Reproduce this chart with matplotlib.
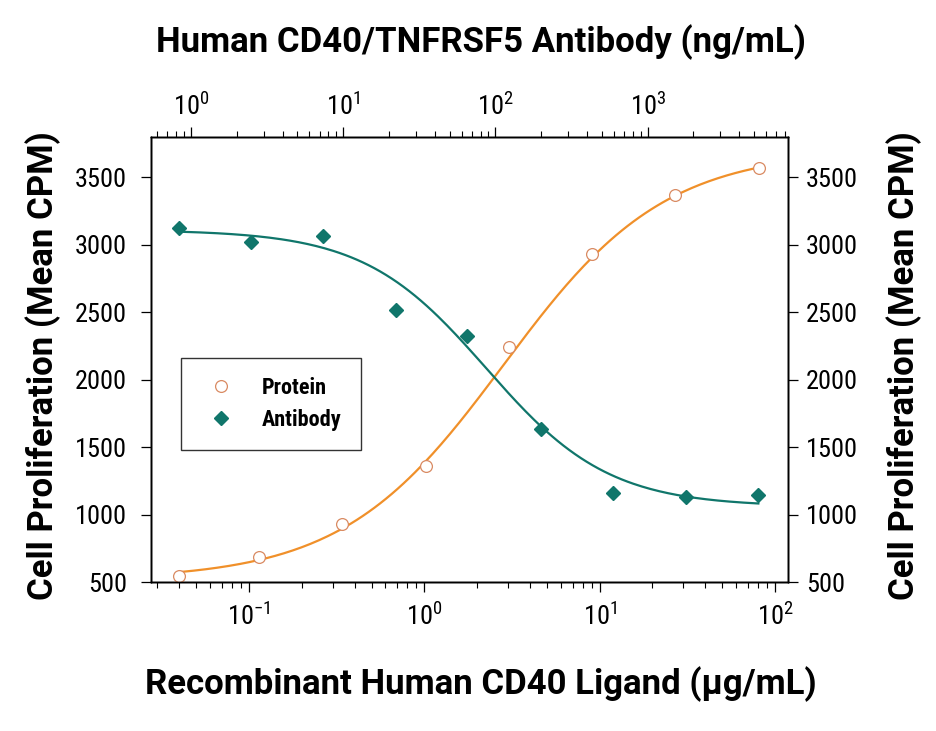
import matplotlib
matplotlib.use("Agg")
import matplotlib.pyplot as plt
from matplotlib import font_manager
from matplotlib.ticker import LogLocator, LogFormatterMathtext, NullFormatter
import numpy as np

# Protein (bottom axis, ug/mL)
protein_conc = [0.040, 0.1135, 0.339, 1.017, 3.03, 9.05, 27.0, 80.7]
protein_cpm = [547, 690, 932, 1365, 2240, 2935, 3368, 3568]

# Antibody (top axis, ng/mL)
antibody_conc = [0.838, 2.48, 7.40, 22.2, 65.4, 198.5, 595, 1787, 5337]
antibody_cpm = [3126, 3022, 3064, 2520, 2327, 1635, 1160, 1131, 1145]

# 4PL fit parameters (bottom, top, EC50, hill)
protein_fit = (520, 3700, 2.83, 0.946)
antibody_fit = (1060, 3110, 87.0, 1.08)

ORANGE = "#F0902A"
MARKER_ORANGE = "#D98A62"
TEAL = "#10766B"

# pick a narrow family for ticks/legend if one is installed
installed = {f.name for f in font_manager.fontManager.ttflist}
narrow = "Roboto"
for name in ["Liberation Sans Narrow", "Roboto Condensed", "Open Sans Condensed",
             "Noto Sans Condensed", "DejaVu Sans Condensed"]:
    if name in installed:
        narrow = name
        break
NARROW = [narrow, "DejaVu Sans"]
tick_size = 19 if "Narrow" in narrow or "Condensed" in narrow else 16.5

plt.rcParams["mathtext.fontset"] = "custom"
plt.rcParams["mathtext.rm"] = narrow
plt.rcParams["mathtext.it"] = narrow


def four_pl(x, b, t, c, h):
    return b + (t - b) / (1 + (c / x) ** h)


fig = plt.figure(figsize=(9.37, 7.31), dpi=100)
ax = fig.add_axes([0.1608, 0.2034, 0.6802, 0.6096])
ax2 = ax.twiny()
ax3 = ax.twinx()

# protein on bottom axis
xs = np.logspace(np.log10(protein_conc[0]), np.log10(protein_conc[-1]), 200)
b, t, c, h = protein_fit
ax.plot(xs, four_pl(xs, b, t, c, h), color=ORANGE, lw=1.6, zorder=3)
ax.plot(protein_conc, protein_cpm, "o", ms=8.5, mfc="white", mec=MARKER_ORANGE,
        mew=0.9, zorder=4, label="Protein")

# antibody on top axis
xs2 = np.logspace(np.log10(antibody_conc[0]), np.log10(antibody_conc[-1]), 200)
b, t, c, h = antibody_fit
ax2.plot(xs2, b + (t - b) / (1 + (xs2 / c) ** h), color=TEAL, lw=1.6, zorder=3)
ax2.plot(antibody_conc, antibody_cpm, "D", ms=7.5, color=TEAL, zorder=4,
         label="Antibody")

ax.set_xscale("log")
ax2.set_xscale("log")
ax.set_xlim(0.0275, 118.6)
ax2.set_xlim(0.543, 8360)
ax.set_ylim(500, 3800)
ax2.set_ylim(500, 3800)
ax3.set_ylim(500, 3800)

yt = [500, 1000, 1500, 2000, 2500, 3000, 3500]
ax.set_yticks(yt)
ax3.set_yticks(yt)

for a in (ax, ax2):
    a.xaxis.set_major_locator(LogLocator(base=10))
    a.xaxis.set_minor_locator(LogLocator(base=10, subs=np.arange(2, 10)))
    a.xaxis.set_major_formatter(LogFormatterMathtext())
    a.xaxis.set_minor_formatter(NullFormatter())

for a in (ax, ax2, ax3):
    a.tick_params(which="major", length=7, width=0.9, direction="out",
                  labelsize=tick_size)
    a.tick_params(which="minor", length=4, width=0.8, direction="out")
    for lab in a.get_xticklabels() + a.get_yticklabels():
        lab.set_family(NARROW)
    for s in a.spines.values():
        s.set_linewidth(1.0)

ax.tick_params(axis="x", pad=8)
ax2.tick_params(axis="x", pad=5)
ax.tick_params(axis="y", pad=10)
ax3.tick_params(axis="y", pad=6)

ax.set_xlabel("Recombinant Human CD40 Ligand (µg/mL)", fontsize=25,
              fontweight="bold", family="Roboto", labelpad=26)
ax2.set_xlabel("Human CD40/TNFRSF5 Antibody (ng/mL)", fontsize=25,
               fontweight="bold", family="Roboto", labelpad=29)
ax.set_ylabel("Cell Proliferation (Mean CPM)", fontsize=25,
              fontweight="bold", family="Roboto", labelpad=10)
ax3.set_ylabel("Cell Proliferation (Mean CPM)", fontsize=25,
               fontweight="bold", family="Roboto", labelpad=20, rotation=90)
ax.xaxis.label.set_x(0.518)
ax2.xaxis.label.set_x(0.518)
ax.yaxis.label.set_y(0.487)
ax3.yaxis.label.set_y(0.487)

# legend
h1, l1 = ax.get_legend_handles_labels()
h2, l2 = ax2.get_legend_handles_labels()
leg = ax3.legend(h1 + h2, l1 + l2, loc="upper left",
                 bbox_to_anchor=(0.0475, 0.503), borderaxespad=0,
                 frameon=True, fancybox=False,
                 edgecolor="black", handletextpad=0.9, labelspacing=0.45,
                 borderpad=0.85, handlelength=1.9,
                 prop={"family": NARROW, "size": 16, "weight": "bold"})
leg.get_frame().set_linewidth(1.0)

fig.savefig("out.png", dpi=100, facecolor="white")
